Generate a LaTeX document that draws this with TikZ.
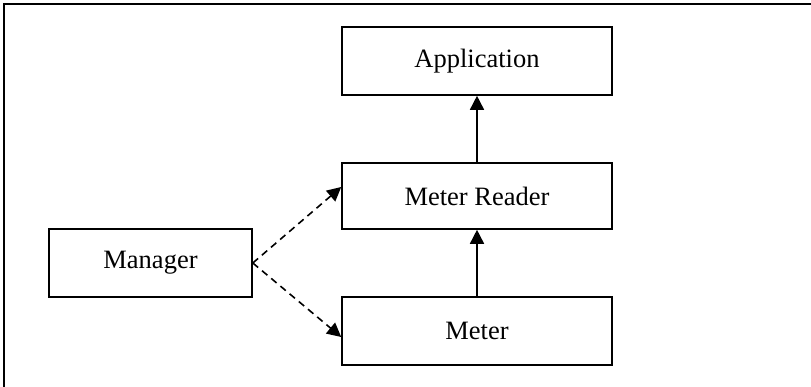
\documentclass[tikz,border=0pt]{standalone}
\usepackage{fontspec}
\setmainfont{Liberation Serif}
\usetikzlibrary{arrows.meta}
\begin{document}
\begin{tikzpicture}[x=1pt,y=-1pt,
  blk/.style={draw,line width=1.6pt,inner sep=0pt,minimum height=68pt,font=\fontsize{26.5}{30}\selectfont},
  solidarr/.style={line width=1.6pt,-{Triangle[length=14pt,width=14pt]}},
  dasharr/.style={line width=1.6pt,dash pattern=on 7pt off 5pt,-{Triangle[length=14pt,width=14pt]}}]
\useasboundingbox (0,0) rectangle (811,386);
\begin{scope}
\clip (0,0) rectangle (811,386);
\draw[line width=1.8pt] (4,400) -- (4,4) -- (830,4);
\end{scope}
\node[blk,minimum width=270pt] (app) at (477,61) {Application};
\node[blk,minimum width=270pt,minimum height=66pt] (mr) at (477,196) {Meter Reader};
\node[blk,minimum width=270pt] (meter) at (477,331) {Meter};
\node[blk,minimum width=203pt] (mgr) at (150.5,263) {Manager};
\draw[solidarr] (mr.north) -- (app.south);
\draw[solidarr] (meter.north) -- (mr.south);
\draw[dasharr] (mgr.east) -- ([yshift=9pt]mr.west);
\draw[dasharr] (mgr.east) -- ([yshift=-6pt]meter.west);
\end{tikzpicture}
\end{document}
